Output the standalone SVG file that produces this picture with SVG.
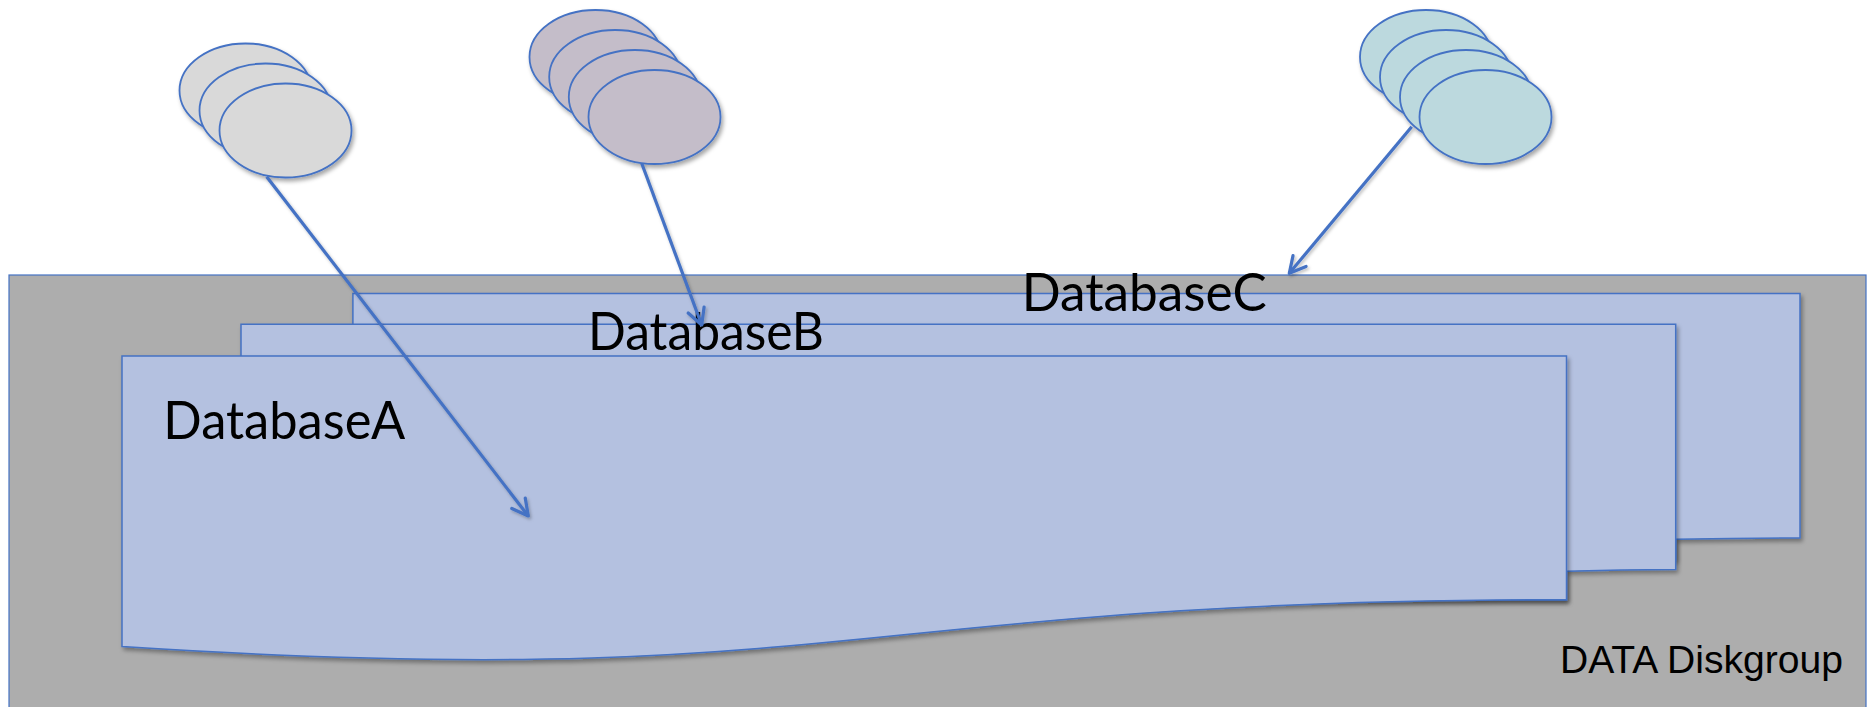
<svg xmlns="http://www.w3.org/2000/svg" width="1869" height="707" viewBox="0 0 1869 707">
  <defs>
    <style>
      .disk { fill: #adadad; stroke: #4472c4; stroke-width: 1.2; }
      .page { fill: #b4c1e0; stroke: #4472c4; stroke-width: 1.5; stroke-linejoin: miter; }
      .inst { stroke: #4472c4; stroke-width: 1.8; }
      .instA { fill: #d9d9d9; }
      .instB { fill: #c4bdc9; }
      .instC { fill: #bcd9de; }
      .dbname { font-family: Lato, "Open Sans", "Liberation Sans", sans-serif; font-size: 52px; fill: #000; }
      .dglabel { font-family: "Liberation Sans", Arial, sans-serif; font-size: 38px; fill: #000; }
      .link { fill: none; stroke: #4472c4; stroke-width: 3.2; marker-end: url(#arrow); }
    </style>
    <filter id="shadow" x="-5%" y="-5%" width="115%" height="125%">
      <feDropShadow dx="2" dy="3" stdDeviation="2" flood-color="#000" flood-opacity="0.35"/>
    </filter>
    <filter id="lineShadow" x="-20%" y="-20%" width="140%" height="140%">
      <feDropShadow dx="1.5" dy="2" stdDeviation="1.5" flood-color="#000" flood-opacity="0.25"/>
    </filter>
    <marker id="arrow" markerUnits="userSpaceOnUse" orient="auto" refX="0" refY="0" viewBox="-20 -12 24 24" markerWidth="24" markerHeight="24" overflow="visible">
      <path d="M-16,-8.5 L0,0 L-16,8.5" fill="none" stroke="#4472c4" stroke-width="3.2" stroke-linecap="round" stroke-linejoin="round"/>
    </marker>
  </defs>

  <!-- DATA disk group -->
  <g id="data-diskgroup">
    <rect class="disk" x="9" y="275" width="1857" height="440"/>
    <text class="dglabel" x="1560" y="673" textLength="283" lengthAdjust="spacingAndGlyphs">DATA Diskgroup</text>
  </g>

  <!-- Database pages, back to front -->
  <g id="database-c">
    <path class="page" filter="url(#shadow)" d="M352.9,293.5 L1800,293.5 L1800,538 C1737.9,538 1675.7,539.3 1675.7,539.3 L1675.7,560 L352.9,560 Z"/>
    <text class="dbname" x="1021.7" y="311" textLength="245" lengthAdjust="spacingAndGlyphs">DatabaseC</text>
  </g>
  <g id="database-b">
    <path class="page" filter="url(#shadow)" d="M241,324.3 L1675.7,324.3 L1675.7,569.6 C1621.2,569.6 1566.5,571.3 1566.5,571.3 L1566.5,600 L241,600 Z"/>
    <text class="dbname" x="588" y="350" textLength="236" lengthAdjust="spacingAndGlyphs">DatabaseB</text>
  </g>
  <g id="database-a">
    <path class="page" filter="url(#shadow)" d="M122,355.9 L1566.5,355.9 L1566.5,599.7 C844.3,599.7 844.3,693.5 122,646.6 Z"/>
    <text class="dbname" x="163.3" y="439" textLength="242" lengthAdjust="spacingAndGlyphs">DatabaseA</text>
  </g>

  <!-- Instance groups -->
  <g id="instances-a" filter="url(#shadow)">
    <ellipse class="inst instA" cx="245.5" cy="90.5" rx="66" ry="47"/>
    <ellipse class="inst instA" cx="265.5" cy="110.5" rx="66" ry="47"/>
    <ellipse class="inst instA" cx="285.5" cy="130.5" rx="66" ry="47"/>
  </g>
  <g id="instances-b" filter="url(#shadow)">
    <ellipse class="inst instB" cx="595.5" cy="57" rx="66" ry="47"/>
    <ellipse class="inst instB" cx="615.2" cy="77" rx="66" ry="47"/>
    <ellipse class="inst instB" cx="634.8" cy="97" rx="66" ry="47"/>
    <ellipse class="inst instB" cx="654.5" cy="117" rx="66" ry="47"/>
  </g>
  <g id="instances-c" filter="url(#shadow)">
    <ellipse class="inst instC" cx="1426" cy="57" rx="66" ry="47"/>
    <ellipse class="inst instC" cx="1446" cy="77" rx="66" ry="47"/>
    <ellipse class="inst instC" cx="1466" cy="97" rx="66" ry="47"/>
    <ellipse class="inst instC" cx="1485.5" cy="117" rx="66" ry="47"/>
  </g>

  <!-- Connectors -->
  <g id="connectors" filter="url(#lineShadow)">
    <line class="link" x1="266.7" y1="176.7" x2="528.3" y2="516"/>
    <line class="link" x1="641.7" y1="163.3" x2="701.7" y2="325"/>
    <line class="link" x1="1411.7" y1="126.7" x2="1289.3" y2="273.3"/>
  </g>
</svg>
